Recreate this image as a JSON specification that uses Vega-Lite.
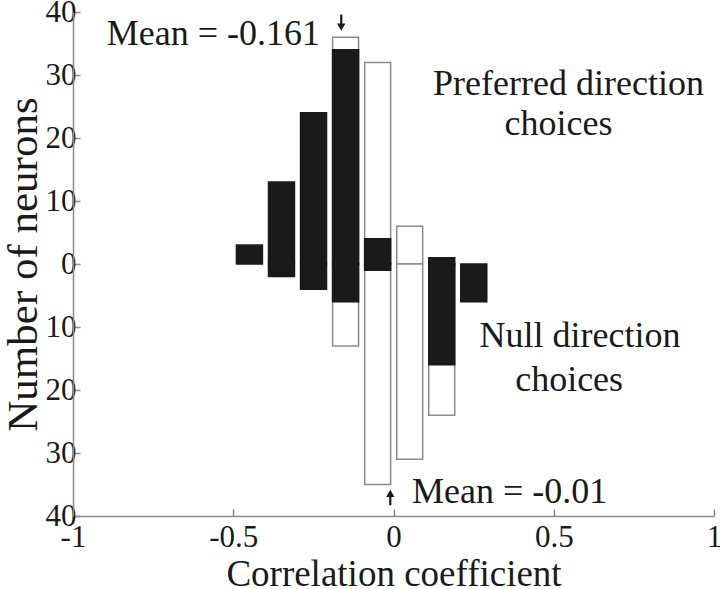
{
  "$schema": "https://vega.github.io/schema/vega-lite/v6.json",
  "width": 641,
  "height": 504,
  "autosize": {"type": "none"},
  "padding": {"left": 73, "top": 12, "right": 6, "bottom": 73},
  "background": "white",
  "config": {
    "view": {"stroke": null},
    "font": "Liberation Serif",
    "axis": {
      "domainColor": "#8a8a8a",
      "tickColor": "#8a8a8a",
      "grid": false,
      "labelColor": "#1a1a1a",
      "titleColor": "#1a1a1a",
      "labelFont": "Liberation Serif",
      "titleFont": "Liberation Serif",
      "titleFontWeight": "normal",
      "domainWidth": 1.5,
      "tickWidth": 1.5
    }
  },
  "datasets": {
    "bars": [
      {"lo": -0.19, "hi": -0.109, "y0": 0, "y1": 36, "kind": "open"},
      {"lo": -0.19, "hi": -0.109, "y0": 0, "y1": -13, "kind": "open"},
      {"lo": -0.09, "hi": -0.009, "y0": 0, "y1": 32, "kind": "open"},
      {"lo": -0.09, "hi": -0.009, "y0": 0, "y1": -35, "kind": "open"},
      {"lo": 0.01, "hi": 0.091, "y0": 0, "y1": 6, "kind": "open"},
      {"lo": 0.01, "hi": 0.091, "y0": 0, "y1": -31, "kind": "open"},
      {"lo": 0.11, "hi": 0.191, "y0": 0, "y1": -24, "kind": "open"},
      {"lo": -0.49, "hi": -0.409, "y0": 0, "y1": 3, "kind": "filled"},
      {"lo": -0.39, "hi": -0.309, "y0": 0, "y1": 13, "kind": "filled"},
      {"lo": -0.39, "hi": -0.309, "y0": 0, "y1": -2, "kind": "filled"},
      {"lo": -0.29, "hi": -0.209, "y0": 0, "y1": 24, "kind": "filled"},
      {"lo": -0.29, "hi": -0.209, "y0": 0, "y1": -4, "kind": "filled"},
      {"lo": -0.19, "hi": -0.109, "y0": 0, "y1": 34, "kind": "filled"},
      {"lo": -0.19, "hi": -0.109, "y0": 0, "y1": -6, "kind": "filled"},
      {"lo": -0.09, "hi": -0.009, "y0": 0, "y1": 4, "kind": "filled"},
      {"lo": -0.09, "hi": -0.009, "y0": 0, "y1": -1, "kind": "filled"},
      {"lo": 0.11, "hi": 0.191, "y0": 0, "y1": 1, "kind": "filled"},
      {"lo": 0.11, "hi": 0.191, "y0": 0, "y1": -16, "kind": "filled"},
      {"lo": 0.21, "hi": 0.291, "y0": 0, "y1": -6, "kind": "filled"}
    ],
    "rightLabels": [
      {"x": -0.229, "y": 34.8, "text": "Mean = -0.161"}
    ],
    "leftLabels": [
      {"x": 0.058, "y": -37.9, "text": "Mean = -0.01"}
    ],
    "centerLabels": [
      {"x": 0.546, "y": 26.8, "text": "Preferred direction"},
      {"x": 0.515, "y": 20.5, "text": "choices"},
      {"x": 0.582, "y": -13.2, "text": "Null direction"},
      {"x": 0.548, "y": -20.2, "text": "choices"}
    ],
    "arrows": [
      {"x": -0.163, "stemA": 39.6, "stemB": 37.9, "head": 37.6, "dir": "down"},
      {"x": -0.01, "stemA": -38.3, "stemB": -36.7, "head": -36.4, "dir": "up"}
    ]
  },
  "layer": [
    {
      "mark": {"type": "rule", "color": "#8a8a8a", "strokeWidth": 1.2},
      "encoding": {"y": {"datum": 0, "type": "quantitative", "scale": {"domain": [-40, 40], "nice": false, "zero": false}}}
    },
    {
      "data": {"name": "bars"},
      "mark": {"type": "rect", "strokeWidth": 1.5},
      "encoding": {
        "x": {
          "field": "lo", "type": "quantitative",
          "scale": {"domain": [-1, 1], "nice": false, "zero": false},
          "axis": {
            "values": [-1, -0.5, 0, 0.5, 1],
            "labelExpr": "datum.value",
            "tickSize": -7,
            "labelPadding": 13,
            "labelFontSize": 31,
            "labelFlush": false,
            "labelOverlap": false,
            "title": "Correlation coefficient",
            "titleFontSize": 37,
            "titlePadding": 4
          }
        },
        "x2": {"field": "hi"},
        "y": {
          "field": "y0", "type": "quantitative",
          "scale": {"domain": [-40, 40], "nice": false, "zero": false},
          "axis": {
            "values": [-40, -30, -20, -10, 0, 10, 20, 30, 40],
            "labelExpr": "abs(datum.value)",
            "tickSize": -7,
            "labelPadding": 4,
            "labelFontSize": 31,
            "labelOverlap": false,
            "labelFlush": false,
            "title": "Number of neurons",
            "titleFontSize": 43,
            "titlePadding": 0
          }
        },
        "y2": {"field": "y1"},
        "fill": {
          "field": "kind", "type": "nominal",
          "scale": {"domain": ["filled", "open"], "range": ["#1a1a1a", "#ffffff"]},
          "legend": null
        },
        "stroke": {
          "field": "kind", "type": "nominal",
          "scale": {"domain": ["filled", "open"], "range": ["#1a1a1a", "#8a8a8a"]},
          "legend": null
        }
      }
    },
    {
      "data": {"name": "rightLabels"},
      "mark": {"type": "text", "fontSize": 36, "color": "#1a1a1a", "baseline": "alphabetic", "align": "right"},
      "encoding": {
        "x": {"field": "x", "type": "quantitative"},
        "y": {"field": "y", "type": "quantitative"},
        "text": {"field": "text"}
      }
    },
    {
      "data": {"name": "leftLabels"},
      "mark": {"type": "text", "fontSize": 36, "color": "#1a1a1a", "baseline": "alphabetic", "align": "left"},
      "encoding": {
        "x": {"field": "x", "type": "quantitative"},
        "y": {"field": "y", "type": "quantitative"},
        "text": {"field": "text"}
      }
    },
    {
      "data": {"name": "centerLabels"},
      "mark": {"type": "text", "fontSize": 36, "color": "#1a1a1a", "baseline": "alphabetic", "align": "center"},
      "encoding": {
        "x": {"field": "x", "type": "quantitative"},
        "y": {"field": "y", "type": "quantitative"},
        "text": {"field": "text"}
      }
    },
    {
      "data": {"name": "arrows"},
      "mark": {"type": "rule", "color": "#1a1a1a", "strokeWidth": 2.2},
      "encoding": {
        "x": {"field": "x", "type": "quantitative"},
        "y": {"field": "stemA", "type": "quantitative"},
        "y2": {"field": "stemB"}
      }
    },
    {
      "data": {"name": "arrows"},
      "mark": {"type": "point", "filled": true, "color": "#1a1a1a", "size": 70, "opacity": 1},
      "encoding": {
        "x": {"field": "x", "type": "quantitative"},
        "y": {"field": "head", "type": "quantitative"},
        "shape": {
          "field": "dir", "type": "nominal",
          "scale": {"domain": ["down", "up"], "range": ["triangle-down", "triangle-up"]},
          "legend": null
        }
      }
    }
  ]
}
